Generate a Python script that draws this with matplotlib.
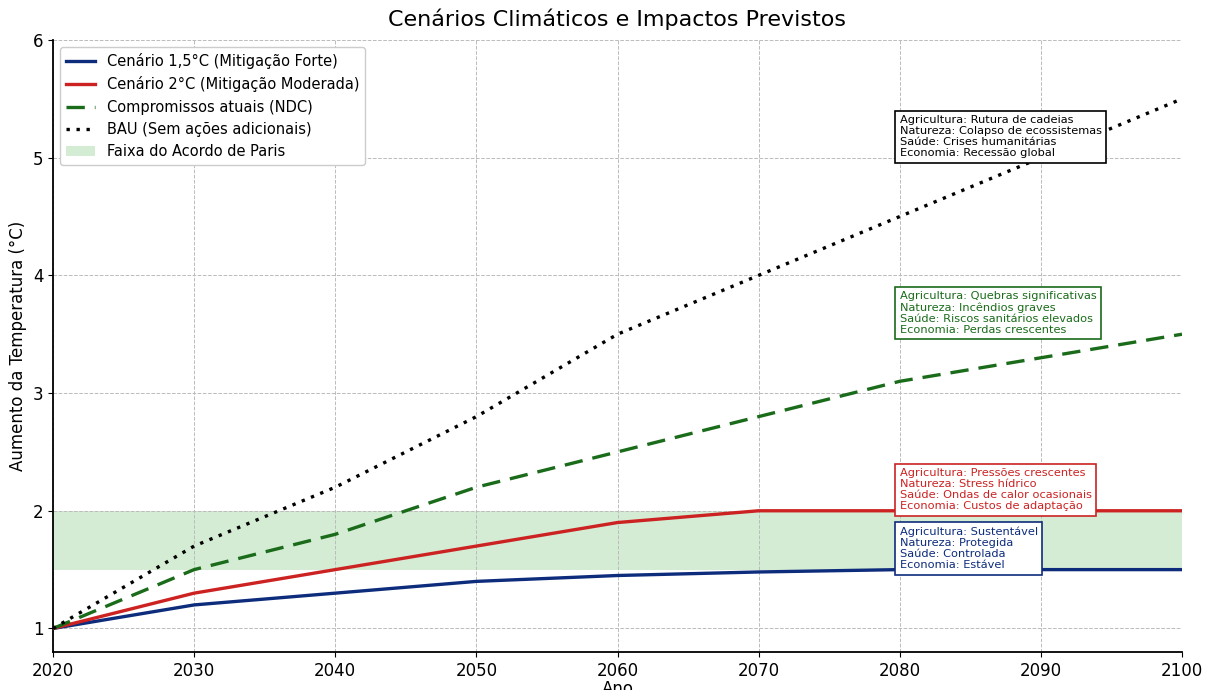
import numpy as np
import matplotlib.pyplot as plt

anos = [2020, 2030, 2040, 2050, 2060, 2070, 2080, 2090, 2100]
cen_15 = [1.0, 1.2, 1.3, 1.4, 1.45, 1.48, 1.5, 1.5, 1.5]
cen_2 = [1.0, 1.3, 1.5, 1.7, 1.9, 2.0, 2.0, 2.0, 2.0]
ndc = [1.0, 1.5, 1.8, 2.2, 2.5, 2.8, 3.1, 3.3, 3.5]
bau = [1.0, 1.7, 2.2, 2.8, 3.5, 4.0, 4.5, 5.0, 5.5]

c_azul = '#0d2c7c'
c_verm = '#cc2222'
c_verde = '#1a6b1a'

impactos = {
    'bau': ("Agricultura: Rutura de cadeias\nNatureza: Colapso de ecossistemas\n"
            "Saúde: Crises humanitárias\nEconomia: Recessão global", 5.18, 'black'),
    'ndc': ("Agricultura: Quebras significativas\nNatureza: Incêndios graves\n"
            "Saúde: Riscos sanitários elevados\nEconomia: Perdas crescentes", 3.68, c_verde),
    '2': ("Agricultura: Pressões crescentes\nNatureza: Stress hídrico\n"
          "Saúde: Ondas de calor ocasionais\nEconomia: Custos de adaptação", 2.18, c_verm),
    '15': ("Agricultura: Sustentável\nNatureza: Protegida\n"
           "Saúde: Controlada\nEconomia: Estável", 1.68, c_azul),
}

fig = plt.figure(figsize=(12.06, 6.9), dpi=100)
ax = fig.add_axes([53 / 1206, 38 / 690, (1182 - 53) / 1206, (652 - 40) / 690])

ax.fill_between(anos, 1.5, 2.0, color='tab:green', alpha=0.2, lw=0,
                label='Faixa do Acordo de Paris', zorder=1)
ax.plot(anos, cen_15, color=c_azul, lw=2.4, label='Cenário 1,5°C (Mitigação Forte)', zorder=3)
ax.plot(anos, cen_2, color=c_verm, lw=2.4, label='Cenário 2°C (Mitigação Moderada)', zorder=3)
ax.plot(anos, ndc, color=c_verde, lw=2.4, ls=(0, (5.5, 3)), label='Compromissos atuais (NDC)', zorder=3)
ax.plot(anos, bau, color='black', lw=2.4, ls=(0, (1, 2)), label='BAU (Sem ações adicionais)', zorder=3)

# faixa vai para o fim da legenda
h, l = ax.get_legend_handles_labels()
h = h[1:] + h[:1]
l = l[1:] + l[:1]
ax.legend(h, l, loc='upper left', fontsize=10.5, framealpha=1)

for txt, y, cor in impactos.values():
    ax.text(2080, y, txt, color=cor, fontsize=8.2, va='center', ha='left', zorder=5,
            linespacing=1.12,
            bbox=dict(boxstyle='square,pad=0.4', fc='white', ec=cor, lw=1.2))

ax.set_xlim(2020, 2100)
ax.set_ylim(0.8, 6)
ax.set_xticks(anos)
ax.set_yticks([1, 2, 3, 4, 5, 6])
ax.tick_params(labelsize=12)
ax.grid(True, ls='--', color='#bbbbbb', lw=0.7)
for s in ['top', 'right']:
    ax.spines[s].set_visible(False)
ax.spines['left'].set_linewidth(1.3)
ax.spines['bottom'].set_linewidth(1.3)

ax.set_title('Cenários Climáticos e Impactos Previstos', fontsize=16, pad=10)
ax.set_xlabel('Ano', fontsize=12, labelpad=0)
ax.set_ylabel('Aumento da Temperatura (°C)', fontsize=12)

fig.savefig('out.png', dpi=100)
